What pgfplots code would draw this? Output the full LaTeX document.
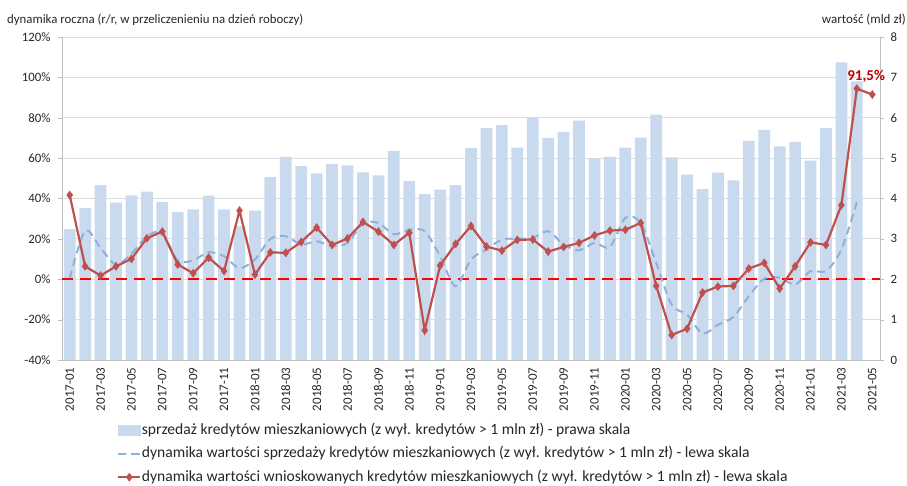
\documentclass[border=0pt]{standalone}
\usepackage{fontspec}
\setmainfont{Carlito}
\usepackage{pgfplots}
\pgfplotsset{compat=1.18}
\definecolor{barblue}{HTML}{C9DAEF}
\definecolor{dashblue}{HTML}{8FB0D9}
\definecolor{redline}{HTML}{C0504D}
\definecolor{gridgray}{HTML}{DDDDDD}
\definecolor{axisgray}{HTML}{BFBFBF}
\definecolor{txt}{HTML}{262626}
\begin{document}
\begin{tikzpicture}[x=1pt,y=1pt]
\useasboundingbox (-62,-125) rectangle (845,360);
% ---------- right axis: bars ----------
\begin{axis}[
  at={(0,0)}, anchor=south west, scale only axis,
  width=818pt, height=323pt,
  xmin=-0.5, xmax=52.5, ymin=0, ymax=8,
  axis x line=none, axis y line*=right,
  axis line style={draw=axisgray,-},
  ytick={0,1,...,8},
  ytick style={draw=axisgray}, tick align=outside, major tick length=4pt,
  yticklabel style={font=\fontsize{12.8}{14}\selectfont, text=txt, xshift=3pt},
  /pgf/number format/assume math mode=true,
  ymajorgrids, grid style={draw=gridgray, line width=0.8pt},
]
\addplot[ybar, bar width=0.76, fill=barblue, draw=none] coordinates {
(0,3.24) (1,3.76) (2,4.33) (3,3.90) (4,4.08) (5,4.17) (6,3.91) (7,3.66) (8,3.73) (9,4.07)
(10,3.73) (11,3.31) (12,3.70) (13,4.53) (14,5.03) (15,4.80) (16,4.62) (17,4.85) (18,4.82) (19,4.65)
(20,4.57) (21,5.18) (22,4.43) (23,4.11) (24,4.22) (25,4.33) (26,5.25) (27,5.74) (28,5.82) (29,5.26)
(30,6.00) (31,5.50) (32,5.65) (33,5.93) (34,4.99) (35,5.03) (36,5.26) (37,5.51) (38,6.08) (39,5.02)
(40,4.59) (41,4.23) (42,4.64) (43,4.45) (44,5.43) (45,5.70) (46,5.29) (47,5.40) (48,4.94) (49,5.74)
(50,7.37) (51,6.90)
};
\end{axis}
% ---------- left axis: lines ----------
\begin{axis}[
  at={(0,0)}, anchor=south west, scale only axis,
  width=818pt, height=323pt,
  xmin=-0.5, xmax=52.5, ymin=-40, ymax=120,
  clip=false,
  axis x line*=bottom, axis y line*=left,
  axis line style={draw=axisgray,-},
  ytick={-40,-20,...,120},
  yticklabels={-40\%,-20\%,0\%,20\%,40\%,60\%,80\%,100\%,120\%},
  ytick style={draw=axisgray}, tick align=outside, major tick length=4pt,
  yticklabel style={font=\fontsize{12.8}{14}\selectfont, text=txt, xshift=-4pt},
  xtick={0,2,...,52},
  xticklabels={2017-01,2017-03,2017-05,2017-07,2017-09,2017-11,
    2018-01,2018-03,2018-05,2018-07,2018-09,2018-11,
    2019-01,2019-03,2019-05,2019-07,2019-09,2019-11,
    2020-01,2020-03,2020-05,2020-07,2020-09,2020-11,
    2021-01,2021-03,2021-05},
  xtick style={draw=none},
  xticklabel style={rotate=90, anchor=east, font=\fontsize{13}{14}\selectfont, text=txt},
  legend style={at={(55pt,-62pt)}, anchor=north west, draw=none, fill=none,
    font=\fontsize{15.6}{18}\selectfont, text=txt, row sep=7.5pt, inner sep=0pt,
    nodes={inner xsep=0.5pt, inner ysep=0pt, text height=12pt, text depth=4pt}},
  legend cell align=left,
  legend image code/.code={\draw[mark repeat=2,mark phase=2,#1] plot coordinates {(0pt,0pt) (11pt,0pt) (22pt,0pt)};},
]
\addlegendimage{legend image code/.code={\fill[barblue] (0pt,-5pt) rectangle (22pt,5pt);}}
\addlegendentry{sprzedaż kredytów mieszkaniowych (z wył. kredytów > 1 mln zł) - prawa skala}
\addplot[forget plot, draw=red, line width=2.2pt, dash pattern=on 11pt off 7pt] coordinates {(-0.5,0) (52.5,0)};
\addplot[draw=dashblue, line width=2pt, dash pattern=on 8pt off 5pt, smooth, tension=0.5] coordinates {
(0,0.5) (1,24.0) (2,15.5) (3,7.3) (4,12.7) (5,21.3) (6,23.0) (7,9.3) (8,9.4) (9,13.4)
(10,11.4) (11,5.5) (12,9.8) (13,20.0) (14,21.3) (15,17.2) (16,18.8) (17,16.4) (18,18.0) (19,27.6)
(20,27.9) (21,22.3) (22,24.5) (23,23.8) (24,11.4) (25,-3.5) (26,9.8) (27,14.7) (28,19.7) (29,20.0)
(30,20.5) (31,23.8) (32,17.2) (33,14.4) (34,18.0) (35,16.0) (36,30.4) (37,27.9) (38,8.1) (39,-12.6)
(40,-17.5) (41,-26.9) (42,-22.5) (43,-18.7) (44,-8.4) (45,0.3) (46,0.7) (47,-2.6) (48,4.0) (49,4.1)
(50,14.7) (51,38.2)
};
\addlegendentry{dynamika wartości sprzedaży kredytów mieszkaniowych (z wył. kredytów > 1 mln zł) - lewa skala}
\addplot[draw=redline, line width=2.2pt, mark=diamond*, mark size=4pt, mark options={fill=redline, draw=redline, line width=0.5pt}] coordinates {
(0,41.7) (1,6.4) (2,1.8) (3,6.4) (4,10.1) (5,20.3) (6,23.6) (7,7.3) (8,3.0) (9,10.7)
(10,4.1) (11,34.0) (12,2.3) (13,13.3) (14,13.1) (15,18.5) (16,25.6) (17,17.0) (18,20.2) (19,28.4)
(20,23.6) (21,17.0) (22,23.0) (23,-25.3) (24,6.8) (25,17.5) (26,26.4) (27,16.2) (28,14.2) (29,19.5)
(30,19.7) (31,13.7) (32,16.0) (33,18.0) (34,21.7) (35,24.1) (36,24.5) (37,27.9) (38,-3.3) (39,-27.6)
(40,-24.5) (41,-6.6) (42,-3.6) (43,-3.3) (44,5.3) (45,8.1) (46,-4.6) (47,6.4) (48,18.3) (49,17.0)
(50,36.7) (51,94.4) (52,91.5)
};
\addlegendentry{dynamika wartości wnioskowanych kredytów mieszkaniowych (z wył. kredytów > 1 mln zł) - lewa skala}
\node[inner sep=0pt, font=\bfseries\fontsize{15}{16}\selectfont, text={rgb,255:red,192;green,0;blue,0}] at (axis cs:51.6,100.4) {91,5\%};
\end{axis}
\node[anchor=west, inner sep=0pt, font=\fontsize{12.8}{14}\selectfont, text=txt] at (-55,340) {dynamika roczna (r/r, w przeliczenieniu na dzień roboczy)};
\node[anchor=east, inner sep=0pt, font=\fontsize{13}{14}\selectfont, text=txt] at (844,340) {wartość (mld zł)};
\end{tikzpicture}
\end{document}
